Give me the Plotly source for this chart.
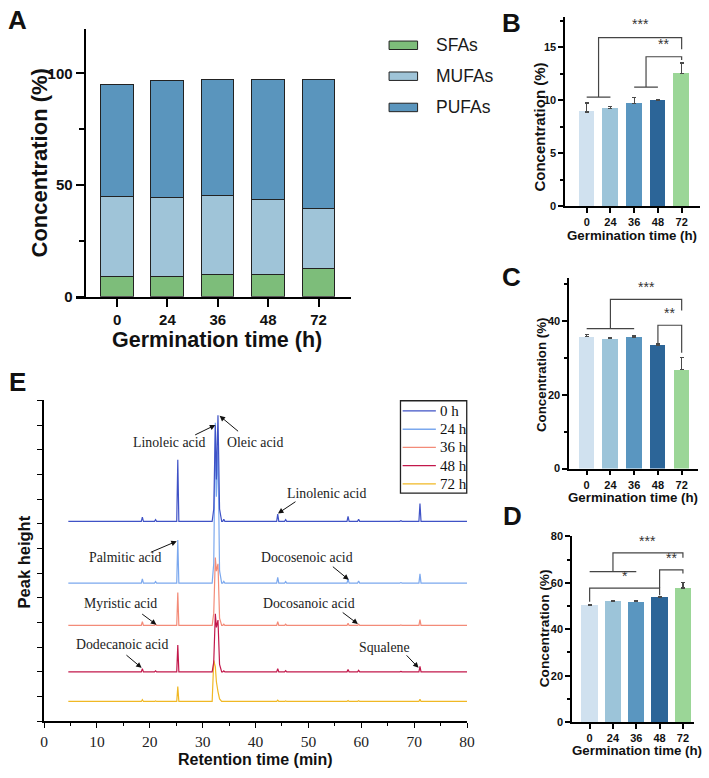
import plotly.graph_objects as go

# ---------------- data ----------------
hours = ["0", "24", "36", "48", "72"]
xpos = [0, 1, 2, 3, 4]

sfa = [8.9, 9.2, 9.7, 10.0, 12.5]
sfa_err = [0.83, 0.19, 0.56, 0.06, 1.0]
mufa = [35.8, 35.3, 35.7, 33.5, 26.9]
mufa_err = [0.5, 0.2, 0.4, 0.5, 3.3]
pufa = [50.4, 52.2, 51.8, 53.8, 57.7]
pufa_err = [0.3, 0.3, 0.3, 0.3, 2.5]

# chromatogram: retention times (min) and peak heights above each baseline
rt = [4.6,
      18.4, 18.6, 18.8,
      20.9, 21.1, 21.3,
      25.1, 25.3, 25.5,
      31.8, 32.1, 32.4, 32.6, 32.9, 33.2, 33.6,
      33.8, 34.0, 34.2,
      44.0, 44.2, 44.4,
      45.5, 45.7, 45.9,
      57.3, 57.5, 57.7,
      59.3, 59.5, 59.7,
      67.3, 67.5, 67.7,
      68.6, 68.8, 69.0,
      70.9, 71.1, 71.3,
      80.0]
h_0h = [0, 0, 0.17, 0, 0, 0.07, 0, 0, 2.5, 0, 0, 0.5, 3.9, 1.7, 4.3, 0.5, 0,
        0, 0.09, 0, 0, 0.29, 0, 0, 0.07, 0, 0, 0.2, 0, 0, 0.09, 0,
        0, 0.03, 0, 0, 0.03, 0, 0, 0.72, 0, 0]
h_24h = [0, 0, 0.17, 0, 0, 0.06, 0, 0, 1.74, 0, 0, 0.8, 6.5, 3.5, 5.5, 0.5, 0,
         0, 0.07, 0, 0, 0.23, 0, 0, 0.06, 0, 0, 0.17, 0, 0, 0.08, 0,
         0, 0.02, 0, 0, 0.02, 0, 0, 0.37, 0, 0]
h_36h = [0, 0, 0.15, 0, 0, 0.05, 0, 0, 1.34, 0, 0, 0.5, 2.75, 2.2, 2.5, 0.3, 0,
         0, 0.05, 0, 0, 0.15, 0, 0, 0.05, 0, 0, 0.09, 0, 0, 0.05, 0,
         0, 0.02, 0, 0, 0.02, 0, 0, 0.24, 0, 0]
h_48h = [0, 0, 0.13, 0, 0, 0.04, 0, 0, 1.09, 0, 0, 0.4, 2.35, 1.8, 2.1, 0.3, 0,
         0, 0.04, 0, 0, 0.13, 0, 0, 0.05, 0, 0, 0.09, 0, 0, 0.06, 0,
         0, 0.02, 0, 0, 0.02, 0, 0, 0.22, 0, 0]
h_72h = [0, 0, 0.07, 0, 0, 0.02, 0, 0, 0.6, 0, 0, 1.66, 1.4, 0.8, 0.4, 0.1, 0,
         0, 0.02, 0, 0, 0.05, 0, 0, 0.02, 0, 0, 0.04, 0, 0, 0.03, 0,
         0, 0.01, 0, 0, 0.01, 0, 0, 0.09, 0, 0]
series_names = ["0 h", "24 h", "36 h", "48 h", "72 h"]
series_heights = [h_0h, h_24h, h_36h, h_48h, h_72h]
series_offsets = [8.1, 5.6, 3.88, 2.0, 0.8]

# ---------------- helpers ----------------
W, H = 709, 778
def px(x): return x / W
def py(y): return 1 - y / H

SANS = "Liberation Sans, Arial"
SERIF = "Liberation Serif, Times New Roman"
INK = "#111"

fig = go.Figure()

# ---------------- Panel A ----------------
colA = {"SFAs": "#7dbd7a", "MUFAs": "#9fc4d8", "PUFAs": "#5a95bd"}
for name, vals in [("SFAs", sfa), ("MUFAs", mufa), ("PUFAs", pufa)]:
    fig.add_trace(go.Bar(x=xpos, y=vals, name=name, width=0.644,
                         marker=dict(color=colA[name], line=dict(color="#222", width=1)),
                         xaxis="x", yaxis="y", showlegend=False))

# ---------------- Panels B, C, D ----------------
bar_colors = ["#d0e1ef", "#9cc4d9", "#5a96c0", "#2c6598", "#9bd697"]
for n, vals, errs, w in [(2, sfa, sfa_err, 0.66), (3, mufa, mufa_err, 0.66), (4, pufa, pufa_err, 0.70)]:
    fig.add_trace(go.Bar(x=xpos, y=vals, width=w,
                         marker=dict(color=bar_colors, line=dict(width=0)),
                         error_y=dict(type="data", array=errs, arrayminus=[0] * 5, symmetric=False,
                                      color="#4a4a4a", thickness=1.3, width=2),
                         xaxis=f"x{n}", yaxis=f"y{n}", showlegend=False))

# ---------------- Panel E ----------------
colE = ["#3f52c6", "#7ba8ee", "#f38b78", "#c2184b", "#f0b824"]
for i in reversed(range(5)):
    fig.add_trace(go.Scatter(x=rt, y=[series_offsets[i] + h for h in series_heights[i]],
                             mode="lines", name=series_names[i],
                             line=dict(color=colE[i], width=1.2),
                             xaxis="x5", yaxis="y5", showlegend=False))

# ---------------- axes ----------------
def cat_axis(dom, rng, anchor, size, ticklen, lw):
    return dict(domain=dom, range=rng, anchor=anchor, showline=True, linecolor="black", linewidth=lw,
                ticks="outside", ticklen=ticklen, tickwidth=lw, tickcolor="black",
                tickvals=xpos, ticktext=hours, showgrid=False, zeroline=False,
                tickfont=dict(family=SANS, size=size, color=INK, weight="bold"))

def val_axis(dom, rng, anchor, tv, mv, size, ticklen, lw, **kw):
    d = dict(domain=dom, range=rng, anchor=anchor, showline=True, linecolor="black", linewidth=lw,
             ticks="outside", ticklen=ticklen, tickwidth=lw, tickcolor="black",
             tickvals=tv, showgrid=False, zeroline=False,
             minor=dict(tickvals=mv, ticks="outside", ticklen=ticklen * 0.6, tickwidth=lw, tickcolor="black"),
             tickfont=dict(family=SANS, size=size, color=INK, weight="bold"))
    d.update(kw)
    return d

layout_axes = dict(
    xaxis=cat_axis([px(73), px(353)], [-0.8195, 4.644], "y", 15, 8, 2),
    yaxis=val_axis([py(296), py(23)], [0, 120], "free", [0, 50, 100], [25, 75], 15, 8, 2, position=px(82)),
    xaxis2=cat_axis([px(571), px(708)], [-0.90, 4.774], "y2", 11, 5, 1.8),
    yaxis2=val_axis([py(204), py(11.7)], [0, 17.8], "x2", [0, 5, 10, 15], [2.5, 7.5, 12.5, 17.5], 11, 5, 1.8),
    xaxis3=cat_axis([px(575), px(706)], [-0.733, 4.69], "y3", 11, 5, 1.8),
    yaxis3=val_axis([py(471), py(276.7)], [0, 51.8], "x3", [0, 20, 40], [10, 30, 50], 11, 5, 1.8),
    xaxis4=cat_axis([px(578), px(702)], [-0.747, 4.48], "y4", 11, 5, 1.8),
    yaxis4=val_axis([py(729.3), py(540)], [0, 80], "x4", [0, 20, 40, 60, 80], [10, 30, 50, 70], 11, 5, 1.8),
    xaxis5=dict(domain=[px(40.7), px(471)], range=[0, 80], anchor="y5", showline=True, linecolor="black",
                linewidth=1.5, ticks="outside", ticklen=5, tickwidth=1.3, tickcolor="black", dtick=10, tick0=0,
                minor=dict(dtick=5, ticks="outside", ticklen=3, tickwidth=1.1, tickcolor="black"),
                showgrid=False, zeroline=False, tickfont=dict(family=SERIF, size=15.5, color="#222")),
    yaxis5=dict(domain=[py(728.3), py(401.7)], range=[0, 13], anchor="x5", showline=True, linecolor="black",
                linewidth=1.5, ticks="outside", ticklen=5, tickwidth=1.3, tickcolor="black",
                tickvals=list(range(14)), showticklabels=False, showgrid=False, zeroline=False),
)

# ---------------- annotations ----------------
ann = []
def txt(x, y, s, size, bold=True, family=SANS, angle=0, color=INK, xanchor="center", xref="paper", yref="paper"):
    ann.append(dict(x=x, y=y, xref=xref, yref=yref, text=s, showarrow=False, textangle=angle,
                    xanchor=xanchor, yanchor="middle",
                    font=dict(family=family, size=size, color=color, weight="bold" if bold else "normal")))

# panel letters
for L, (x, y) in {"A": (14, 14), "B": (516, 17.5), "C": (516, 276), "D": (517.5, 519), "E": (13.5, 382.5)}.items():
    txt(px(x), py(y), L, 26)

# axis titles
txt(px(36), py(160), "Concentration (%)", 22, angle=-90)
txt(px(217), py(340), "Germination time (h)", 21.5)
txt(px(545), py(123), "Concentration (%)", 15, angle=-90)
txt(px(639), py(234), "Germination time (h)", 13.3)
txt(px(546), py(375), "Concentration (%)", 13.3, angle=-90)
txt(px(640), py(500), "Germination time (h)", 13.3)
txt(px(550), py(634), "Concentration (%)", 13.7, angle=-90)
txt(px(644), py(758), "Germination time (h)", 13.3)
txt(px(20), py(566), "Peak height", 16.5, angle=-90)
txt(px(256), py(767), "Retention time (min)", 16)

# legend for panel A
shapes = []
for name, cy in [("SFAs", 40), ("MUFAs", 71.5), ("PUFAs", 103.3)]:
    shapes.append(dict(type="rect", xref="paper", yref="paper", x0=px(391.7), x1=px(420.7),
                       y0=py(cy + 4.3), y1=py(cy - 4.3), fillcolor=colA[name],
                       line=dict(color="#222", width=1)))
    txt(px(437), py(cy), name, 17.5, bold=False, xanchor="left", color="#1a1a1a")

# legend for panel E (boxed)
shapes.append(dict(type="rect", xref="paper", yref="paper", x0=px(403.3), x1=px(470.7),
                   y0=py(496), y1=py(402), fillcolor="white", line=dict(color="#222", width=1.3)))
for i, cy in enumerate([412.3, 431, 449.5, 468, 486.7]):
    shapes.append(dict(type="line", xref="paper", yref="paper", x0=px(405.5), x1=px(439.3),
                       y0=py(cy), y1=py(cy), line=dict(color=colE[i], width=1.3)))
    txt(px(441.5), py(cy), series_names[i], 15, bold=False, family=SERIF, xanchor="left", color="#111")

# significance brackets (x = bar index, y = value)
brackets = {
    2: [[(0, 10.3), (1, 10.3)], [(2, 11.24), (3, 11.24)],
        [(0.5, 10.3), (0.5, 15.9), (4, 15.9), (4, 14.8)],
        [(2.5, 11.24), (2.5, 14.1), (4, 14.1), (4, 13.8)]],
    3: [[(0, 38.0), (2, 38.0)],
        [(1, 38.0), (1, 45.9), (4, 45.9), (4, 42.9)],
        [(3, 34.0), (3, 38.9), (4, 38.9), (4, 31.4)]],
    4: [[(0, 64.8), (2, 64.8)],
        [(1, 64.8), (1, 72.9), (4, 72.9), (4, 70.8)],
        [(0, 51.8), (0, 57.7), (3, 57.7), (3, 54.6)],
        [(3, 57.7), (3, 65.5), (4, 65.5), (4, 64.0)]],
}
stars = {2: [(2.25, 17.2, "***"), (3.25, 15.3, "**")],
         3: [(2.5, 49.3, "***"), (3.5, 42.2, "**")],
         4: [(2.5, 78.0, "***"), (3.5, 70.8, "**"), (1.5, 63.0, "*")]}
for n, lines in brackets.items():
    for pts in lines:
        path = "M " + " L ".join(f"{x},{y}" for x, y in pts)
        shapes.append(dict(type="path", path=path, xref=f"x{n}", yref=f"y{n}",
                           line=dict(color="#454545", width=1.2)))
    for x, y, s in stars[n]:
        txt(x, y, s, 14, bold=False, color="#333", xref=f"x{n}", yref=f"y{n}")

# E peak labels & arrows
labels_E = [("Linoleic acid", 168.3, 445), ("Oleic acid", 255, 444), ("Linolenic acid", 328.3, 496.7),
            ("Palmitic acid", 123.3, 561.7), ("Docosenoic acid", 308.3, 561.7),
            ("Myristic acid", 118.3, 608.3), ("Docosanoic acid", 310, 608.3),
            ("Dodecanoic acid", 120, 650.7), ("Squalene", 386.7, 653.3)]
for s, x, y in labels_E:
    txt(px(x), py(y), s, 13.8, bold=False, family=SERIF, color="#222")

arrows_E = [((215, 426.7), (193.3, 437.3)), ((219.3, 417.3), (239.3, 434)),
            ((278.7, 516.7), (297.7, 504)), ((175.7, 545), (148.3, 556.7)),
            ((350.7, 584.3), (333.3, 570)), ((155, 630), (139.3, 618.3)),
            ((360, 629.3), (343.3, 616.7)), ((140, 674), (123.3, 660)),
            ((421.7, 674), (408.3, 660))]
for (tx, ty), (sx, sy) in arrows_E:
    ann.append(dict(x=px(tx), y=py(ty), xref="paper", yref="paper", text="", showarrow=True,
                    ax=sx - tx, ay=sy - ty, arrowhead=2, arrowsize=1.1, arrowwidth=1,
                    arrowcolor="#111", standoff=0, startstandoff=0))

fig.update_layout(
    width=W, height=H, autosize=False, margin=dict(l=0, r=0, t=0, b=0),
    paper_bgcolor="white", plot_bgcolor="white", barmode="stack", bargap=0,
    showlegend=False,
    annotations=ann, shapes=shapes, **layout_axes,
)

fig.write_html("out.html")
